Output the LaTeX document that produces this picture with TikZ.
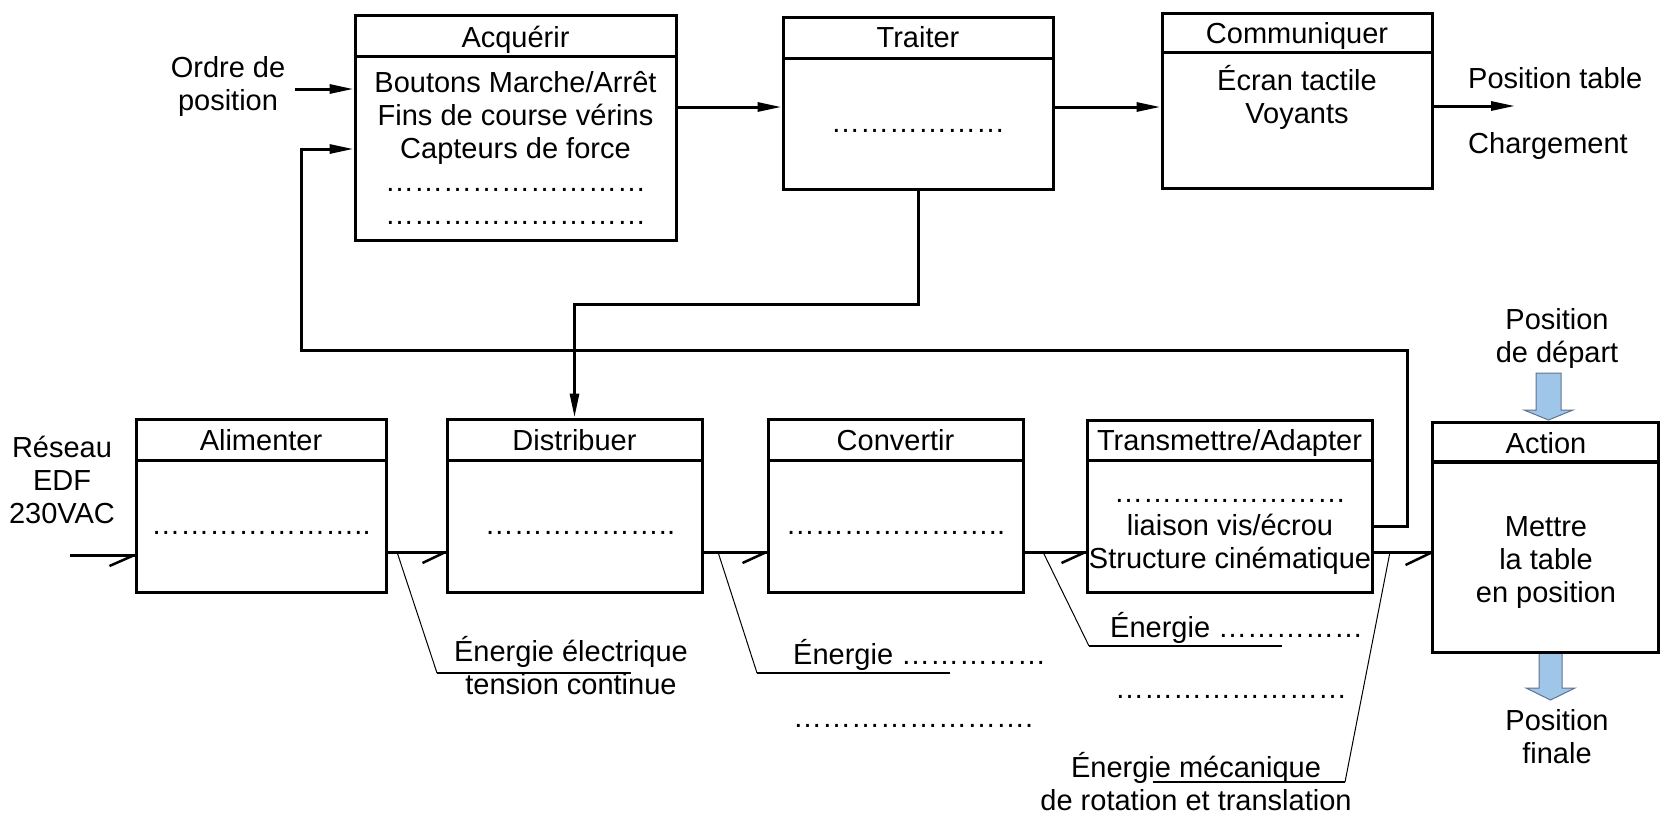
\documentclass[tikz,border=0pt]{standalone}
\usepackage{fontspec}
\setmainfont{Liberation Sans}
\usetikzlibrary{arrows.meta}
\definecolor{arrowblue}{RGB}{159,197,232}
\definecolor{arrowedge}{RGB}{95,115,145}
\ExplSyntaxOn
\NewDocumentCommand\ellip{m}{\prg_replicate:nn{#1}{…}}
\ExplSyntaxOff
\begin{document}
\begin{tikzpicture}[x=1pt,y=-1pt,
  box/.style={draw,line width=3pt,inner sep=0pt},
  txt/.style={inner sep=0pt,anchor=base,align=center,font=\fontsize{29}{33}\selectfont},
  txtl/.style={txt,anchor=base west,align=left},
  conn/.style={line width=3pt,-{Triangle[length=24pt,width=9pt]}},
  flow/.style={line width=3pt},
  tick/.style={line width=2.5pt},
  lead/.style={line width=1pt},
  under/.style={line width=2pt},
  bluearrow/.style={fill=arrowblue,draw=arrowedge,line width=1pt}]
\useasboundingbox (0,0) rectangle (1664,825);
% (multi-line text nodes are placed at the baseline of their last line)

% ---------- top row boxes ----------
\node[box,minimum width=321pt,minimum height=225pt] (acq) at (515.5,127.5) {};
\draw[flow] (acq.west |- 0,56) -- (acq.east |- 0,56);
\node[txt] (acqT) at (515.5,47) {Acquérir};
\node[txt] (acqB) at (515.5,224) {Boutons Marche/Arrêt\\Fins de course vérins\\Capteurs de force\\\ellip{9}\\\ellip{9}};

\node[box,minimum width=270pt,minimum height=172pt] (trt) at (918,103) {};
\draw[flow] (trt.west |- 0,58) -- (trt.east |- 0,58);
\node[txt] (trtT) at (918,47) {Traiter};
\node[txt] (trtB) at (918,132) {\ellip{6}};

\node[box,minimum width=270pt,minimum height=175pt] (com) at (1297,100.5) {};
\draw[flow] (com.west |- 0,52) -- (com.east |- 0,52);
\node[txt] (comT) at (1297,43) {Communiquer};
\node[txt] (comB) at (1297,123) {Écran tactile\\Voyants};

% ---------- bottom row boxes ----------
\node[box,minimum width=250pt,minimum height=173pt] (ali) at (261,505.5) {};
\draw[flow] (ali.west |- 0,460) -- (ali.east |- 0,460);
\node[txt] (aliT) at (261,450) {Alimenter};
\node[txt] (aliB) at (261,534) {\ellip{7}..};

\node[box,minimum width=255pt,minimum height=173pt] (dis) at (574.5,505.5) {};
\draw[flow] (dis.west |- 0,460) -- (dis.east |- 0,460);
\node[txt] (disT) at (574.5,450) {Distribuer};
\node[txt] (disB) at (580,534) {\ellip{6}..};

\node[box,minimum width=255pt,minimum height=173pt] (con) at (895.5,505.5) {};
\draw[flow] (con.west |- 0,460) -- (con.east |- 0,460);
\node[txt] (conT) at (895.5,450) {Convertir};
\node[txt] (conB) at (895.5,534) {\ellip{7}..};

\node[box,minimum width=285pt,minimum height=172pt] (tra) at (1229.5,506) {};
\draw[flow] (tra.west |- 0,460) -- (tra.east |- 0,460);
\node[txt] (traT) at (1229.5,450) {Transmettre/Adapter};
\node[txt] (traB) at (1230,568) {\ellip{8}\\liaison vis/écrou\\Structure cinématique};

% ---------- action ----------
\draw[bluearrow] (1536,373) -- (1561,373) -- (1561,410) -- (1573,410) -- (1548.5,420) -- (1524,410) -- (1536,410) -- cycle;
\draw[bluearrow] (1539,653) -- (1562,653) -- (1562,688) -- (1575,688) -- (1550.5,700) -- (1526,688) -- (1539,688) -- cycle;
\node[box,fill=white,minimum width=226pt,minimum height=230pt] (act) at (1545,537) {};
\draw[line width=4.5pt] (act.west |- 0,462) -- (act.east |- 0,462);
\node[txt] (actT) at (1546,453) {Action};
\node[txt] (actB) at (1546,602) {Mettre\\la table\\en position};
\node[txt] (pdep) at (1557,362) {Position\\de départ};
\node[txt] (pfin) at (1557,763) {Position\\finale};

% ---------- side labels ----------
\node[txt] (ordre) at (228,110) {Ordre de\\position};
\node[txtl] (ptab) at (1468,88) {Position table};
\node[txtl] (charg) at (1468,153) {Chargement};
\node[txt] (reseau) at (62,523) {Réseau\\EDF\\230VAC};

% ---------- information connectors ----------
\coordinate (oin) at (295,89);
\coordinate (cout) at (1515,106);
\draw[conn] (oin) -- (acq.west |- 0,89);
\draw[conn] (acq.east |- 0,107) -- (trt.west |- 0,107);
\draw[conn] (trt.east |- 0,107) -- (com.west |- 0,107);
\draw[conn] (com.east |- 0,106) -- (cout);
\draw[conn] (trt.south) |- (dis.north |- 0,304) -- (dis.north);
\draw[conn] (tra.east |- 0,526) -- (1407,526) -- (1407,350) -- (301,350) -- (301,149) -- (acq.west |- 0,149);

% ---------- energy flow ----------
\coordinate (ein) at (70,555);
\draw[flow] (ein) -- (ali.west |- 0,555);
\draw[tick] (ali.west |- 0,555) -- ++(-25,11);
\draw[flow] (ali.east |- 0,552) -- (dis.west |- 0,552);
\draw[tick] (dis.west |- 0,552) -- ++(-23,11);
\draw[flow] (dis.east |- 0,552) -- (con.west |- 0,552);
\draw[tick] (con.west |- 0,552) -- ++(-24,11);
\draw[flow] (con.east |- 0,552) -- (tra.west |- 0,552);
\draw[tick] (tra.west |- 0,552) -- ++(-24,11);
\draw[flow] (tra.east |- 0,552) -- (act.west |- 0,552);
\draw[tick] (act.west |- 0,553) -- ++(-25,12);

% ---------- energy annotations ----------
\draw[lead] (397,552) -- (437,673);
\draw[under] (437,673) -- (631,673);
\node[txt] (ann1) at (571,694) {Énergie électrique\\tension continue};

\draw[lead] (718,552) -- (757,673);
\draw[under] (757,673) -- (950,673);
\node[txtl] (ann2) at (793,664) {Énergie \ellip{5}};
\node[txtl] (ann2b) at (793,727) {\ellip{8}.};

\draw[lead] (1043,552) -- (1089,646);
\draw[under] (1089,646) -- (1282,646);
\node[txtl] (ann3) at (1110,637) {Énergie \ellip{5}};
\node[txtl] (ann3b) at (1115,698) {\ellip{8}};

\draw[lead] (1390,552) -- (1345,782);
\draw[under] (1345,782) -- (1153,782);
\node[txt] (ann4) at (1196,810) {Énergie mécanique\\de rotation et translation};
\end{tikzpicture}
\end{document}
